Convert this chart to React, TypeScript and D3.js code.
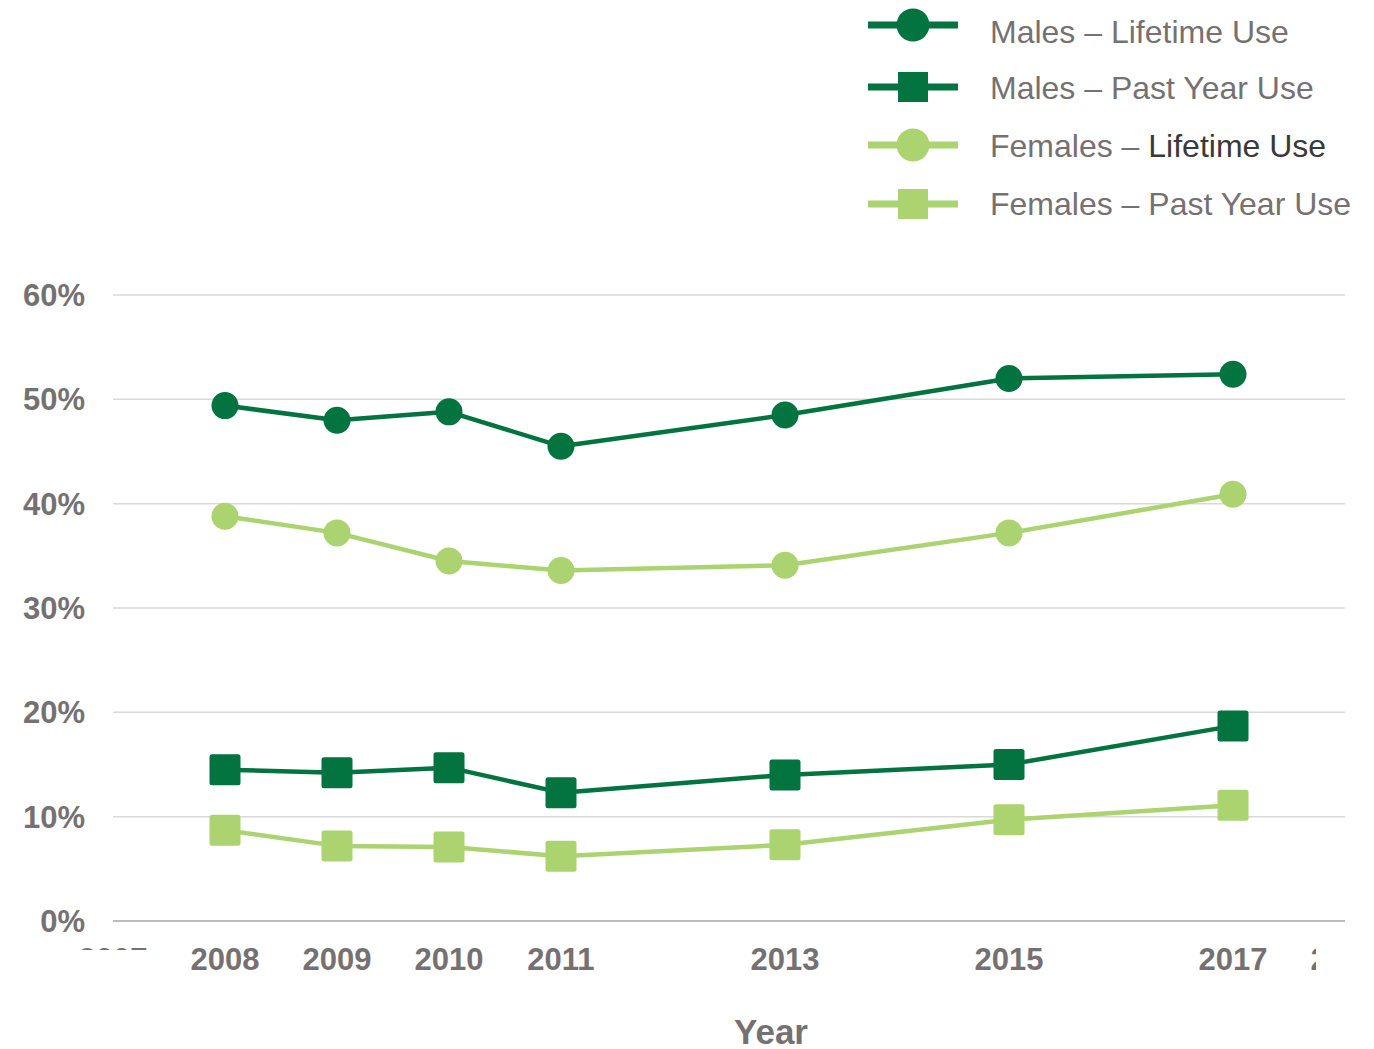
import React from "react";
import * as d3 from "d3";

const years = [2008, 2009, 2010, 2011, 2013, 2015, 2017];
const malesLifetime = [49.4, 48.0, 48.8, 45.5, 48.5, 52.0, 52.4];
const malesPastYear = [14.5, 14.2, 14.7, 12.3, 14.0, 15.0, 18.7];
const femalesLifetime = [38.8, 37.2, 34.5, 33.6, 34.1, 37.2, 40.9];
const femalesPastYear = [8.7, 7.2, 7.1, 6.2, 7.3, 9.7, 11.1];
const yTicks = [0, 10, 20, 30, 40, 50, 60];
const xTickYears = [2007, 2008, 2009, 2010, 2011, 2013, 2015, 2017, 2018];

const DARK = "#03733F";
const LIGHT = "#ABD36F";
const GRAY = "#767171";
const FONT = "'Liberation Sans', Arial, sans-serif";

type Series = { name: string; values: number[]; color: string; shape: "circle" | "square" };
const series: Series[] = [
  { name: "Males – Lifetime Use", values: malesLifetime, color: DARK, shape: "circle" },
  { name: "Males – Past Year Use", values: malesPastYear, color: DARK, shape: "square" },
  { name: "Females – Lifetime Use", values: femalesLifetime, color: LIGHT, shape: "circle" },
  { name: "Females – Past Year Use", values: femalesPastYear, color: LIGHT, shape: "square" },
];

export default function App() {
  const W = 1374, H = 1049;
  const x = d3.scaleLinear().domain([2007, 2018]).range([113, 1345]);
  const y = d3.scaleLinear().domain([0, 60]).range([921, 295]);
  const line = d3
    .line<[number, number]>()
    .x((d) => x(d[0]))
    .y((d) => y(d[1]));

  const marker = (s: Series, cx: number, cy: number, key: string, big = false) => {
    if (s.shape === "circle") {
      const r = big ? 16.5 : 13.5;
      return <circle key={key} cx={cx} cy={cy} r={r} fill={s.color} />;
    }
    const sz = big ? 30 : 31;
    return (
      <rect key={key} x={cx - sz / 2} y={cy - sz / 2} width={sz} height={sz} rx={big ? 0 : 2.5} fill={s.color} />
    );
  };

  const legendY = [25, 87, 145, 204];
  const legendTextY = [43, 99, 157, 215];

  return (
    <svg
      width={W}
      height={H}
      style={{ position: "absolute", left: 0, top: 0, background: "#fff" }}
      fontFamily={FONT}
    >
      <defs>
        <clipPath id="clipLeft">
          <rect x={0} y={0} width={W} height={950} />
        </clipPath>
        <clipPath id="clipRight">
          <rect x={0} y={0} width={1316} height={H} />
        </clipPath>
      </defs>
      <rect width={W} height={H} fill="#fff" />

      {/* gridlines */}
      {yTicks.map((t) =>
        t === 0 ? null : (
          <line key={"g" + t} x1={113} x2={1345} y1={y(t)} y2={y(t)} stroke="#D9D9D9" strokeWidth={1.5} />
        )
      )}
      <line x1={113} x2={1345} y1={y(0)} y2={y(0)} stroke="#A6A6A6" strokeWidth={1.5} />

      {/* y tick labels */}
      {yTicks.map((t) => (
        <text
          key={"yt" + t}
          x={85}
          y={y(t) + 11}
          textAnchor="end"
          fontSize={31}
          fontWeight="bold"
          fill={GRAY}
        >
          {t}%
        </text>
      ))}

      {/* x tick labels */}
      {xTickYears.map((yr) => (
        <text
          key={"xt" + yr}
          x={x(yr)}
          y={970}
          textAnchor="middle"
          fontSize={31}
          fontWeight="bold"
          fill={GRAY}
          clipPath={yr === 2007 ? "url(#clipLeft)" : yr === 2018 ? "url(#clipRight)" : undefined}
        >
          {yr}
        </text>
      ))}

      <text x={771} y={1044} textAnchor="middle" fontSize={35} fontWeight="bold" fill={GRAY}>
        Year
      </text>

      {/* series */}
      {series.map((s, i) => {
        const pts = years.map((yr, j) => [yr, s.values[j]] as [number, number]);
        return (
          <g key={"s" + i}>
            <path d={line(pts) || ""} fill="none" stroke={s.color} strokeWidth={4.5} strokeLinejoin="round" />
            {pts.map((p, j) => marker(s, x(p[0]), y(p[1]), "m" + i + "-" + j))}
          </g>
        );
      })}

      {/* legend */}
      {series.map((s, i) => {
        const cy = legendY[i];
        const parts = s.name.split(" – ");
        return (
          <g key={"lg" + i}>
            <line x1={868} x2={958} y1={cy} y2={cy} stroke={s.color} strokeWidth={7} />
            {marker(s, 913, cy, "lm" + i, true)}
            <text x={990} y={legendTextY[i]} fontSize={32} fill={GRAY}>
              {parts[0]} – {i === 2 ? <tspan fill="#3B3838">{parts[1]}</tspan> : parts[1]}
            </text>
          </g>
        );
      })}
    </svg>
  );
}
